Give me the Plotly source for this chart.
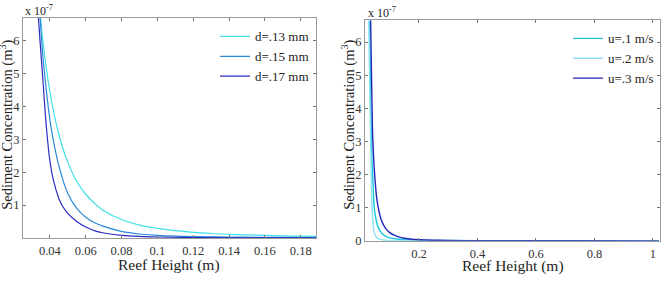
import plotly.graph_objects as go

# ---- Left panel: grain size series (x: reef height m, y: concentration x1e-7)
d13_x = [0.034, 0.036, 0.040, 0.045, 0.050, 0.055, 0.060, 0.066, 0.070, 0.080, 0.090, 0.100,
         0.110, 0.120, 0.130, 0.140, 0.150, 0.160, 0.170, 0.180, 0.190]
d13_y = [7.2, 6.05, 4.45, 3.15, 2.3, 1.72, 1.33, 1.0, 0.83, 0.56, 0.39, 0.29,
         0.22, 0.17, 0.135, 0.11, 0.09, 0.075, 0.062, 0.053, 0.046]
d15_x = [0.034, 0.036, 0.038, 0.040, 0.042, 0.045, 0.050, 0.055, 0.060, 0.065, 0.070, 0.080,
         0.090, 0.100, 0.110, 0.120, 0.140, 0.160, 0.190]
d15_y = [7.2, 5.6, 4.5, 3.6, 2.95, 2.2, 1.35, 0.9, 0.63, 0.46, 0.35, 0.2,
         0.12, 0.08, 0.055, 0.04, 0.025, 0.016, 0.01]
d17_x = [0.033, 0.0345, 0.036, 0.038, 0.040, 0.042, 0.045, 0.047, 0.050, 0.055, 0.060, 0.066,
         0.070, 0.080, 0.090, 0.100, 0.120, 0.150, 0.190]
d17_y = [7.2, 6.0, 4.9, 3.4, 2.35, 1.75, 1.2, 0.97, 0.75, 0.5, 0.33, 0.2,
         0.15, 0.08, 0.045, 0.028, 0.012, 0.005, 0.002]
left_names = ["d=.13 mm", "d=.15 mm", "d=.17 mm"]
left_colors = ["#3fe0e8", "#2a8ad8", "#2a2ac0"]

# ---- Right panel: velocity series
u1_x = [0.030, 0.032, 0.034, 0.036, 0.038, 0.040, 0.043, 0.047, 0.052, 0.058, 0.067, 0.080,
        0.100, 0.130, 0.170, 0.250, 0.400, 0.700, 1.020]
u1_y = [7.0, 5.8, 4.7, 3.6, 2.9, 2.3, 1.7, 1.0, 0.7, 0.47, 0.3, 0.17,
        0.09, 0.05, 0.025, 0.01, 0.003, 0.001, 0.0003]
u2_x = [0.028, 0.030, 0.032, 0.034, 0.036, 0.038, 0.040, 0.043, 0.048, 0.055, 0.065, 0.080,
        0.120, 0.300, 1.020]
u2_y = [7.0, 5.5, 4.3, 3.3, 2.3, 1.5, 0.95, 0.55, 0.22, 0.1, 0.05, 0.02,
        0.007, 0.001, 0.0001]
u3_x = [0.034, 0.036, 0.038, 0.040, 0.042, 0.045, 0.048, 0.052, 0.056, 0.062, 0.070, 0.080,
        0.090, 0.100, 0.115, 0.130, 0.150, 0.175, 0.200, 0.250, 0.300, 0.400, 0.500, 0.700, 1.020]
u3_y = [7.0, 5.9, 4.8, 3.8, 3.1, 2.5, 2.05, 1.6, 1.25, 0.95, 0.66, 0.46,
        0.33, 0.25, 0.17, 0.12, 0.08, 0.05, 0.035, 0.02, 0.012, 0.006, 0.003, 0.001, 0.0005]
right_names = ["u=.1 m/s", "u=.2 m/s", "u=.3 m/s"]
right_colors = ["#1cc8e0", "#8ee2f0", "#2424b8"]

left_xticks = [0.04, 0.06, 0.08, 0.1, 0.12, 0.14, 0.16, 0.18]
left_xticktext = ["0.04", "0.06", "0.08", "0.1", "0.12", "0.14", "0.16", "0.18"]
left_yticks = [1, 2, 3, 4, 5, 6]
right_xticks = [0.2, 0.4, 0.6, 0.8, 1.0]
right_xticktext = ["0.2", "0.4", "0.6", "0.8", "1"]
right_yticks = [0, 1, 2, 3, 4, 5, 6]

x_title = "Reef Height (m)"
y_title = "Sediment Concentration (m<sup>3</sup>)"
exp_label = "x 10<sup>-7</sup>"

W, H = 664, 281
FONT = "Liberation Serif"

fig = go.Figure()
for xs, ys, nm, c in zip([d13_x, d15_x, d17_x], [d13_y, d15_y, d17_y], left_names, left_colors):
    fig.add_trace(go.Scatter(x=xs, y=ys, name=nm, mode="lines", line=dict(color=c, width=1.2, shape="spline"),
                             xaxis="x", yaxis="y", legend="legend"))
order = [(u1_x, u1_y), (u2_x, u2_y), (u3_x, u3_y)]
for (xs, ys), nm, c in zip(order, right_names, right_colors):
    fig.add_trace(go.Scatter(x=xs, y=ys, name=nm, mode="lines", line=dict(color=c, width=1.4, shape="spline"),
                             xaxis="x2", yaxis="y2", legend="legend2"))

axis_common = dict(showline=True, linecolor="#9a9a9a", linewidth=1, mirror="ticks", ticks="inside",
                   ticklen=3, tickcolor="#777", showgrid=False, zeroline=False,
                   tickfont=dict(family=FONT, size=12.5, color="#333"))

fig.update_layout(
    width=W, height=H, margin=dict(l=0, r=0, t=0, b=0),
    paper_bgcolor="white", plot_bgcolor="white",
    xaxis=dict(domain=[23 / W, 316 / W], range=[0.025, 0.1885], tickvals=left_xticks,
               ticktext=left_xticktext, anchor="y", ticklabelstandoff=1, **axis_common),
    yaxis=dict(domain=[1 - 244 / H, 1 - 18 / H], range=[0, 6.71], tickvals=left_yticks,
               anchor="x", **axis_common),
    xaxis2=dict(domain=[365 / W, 660 / W], range=[0.0154, 1.024], tickvals=right_xticks,
                ticktext=right_xticktext, anchor="y2", ticklabelstandoff=1, **axis_common),
    yaxis2=dict(domain=[1 - 247 / H, 1 - 21 / H], range=[0, 6.65], tickvals=right_yticks,
                anchor="x2", **axis_common),
    legend=dict(x=314 / W, xanchor="right", y=1 - 22 / H, yanchor="top", bgcolor="rgba(0,0,0,0)",
                font=dict(family=FONT, size=13, color="#222"), itemwidth=30, tracegroupgap=0),
    legend2=dict(x=659 / W, xanchor="right", y=1 - 24 / H, yanchor="top", bgcolor="rgba(0,0,0,0)",
                 font=dict(family=FONT, size=13, color="#222"), itemwidth=30, tracegroupgap=0),
    showlegend=True,
)

annos = [
    dict(text=y_title, x=7 / W, y=1 - 128 / H, textangle=-90, size=14.5),
    dict(text=y_title, x=349 / W, y=1 - 128 / H, textangle=-90, size=14.5),
    dict(text=x_title, x=169 / W, y=1 - 272 / H, size=15.5),
    dict(text=x_title, x=513 / W, y=1 - 273 / H, size=15.5),
]
for a in annos:
    sz = a.pop("size")
    fig.add_annotation(xref="paper", yref="paper", xanchor="center", yanchor="middle", showarrow=False,
                       font=dict(family=FONT, size=sz, color="#222"), **a)
for xp, yp in [(23, 11), (366, 13)]:
    fig.add_annotation(text=exp_label, xref="paper", yref="paper", x=xp / W, y=1 - yp / H,
                       xanchor="left", yanchor="middle", showarrow=False,
                       font=dict(family=FONT, size=12, color="#222"))

fig.write_html("out.html")
